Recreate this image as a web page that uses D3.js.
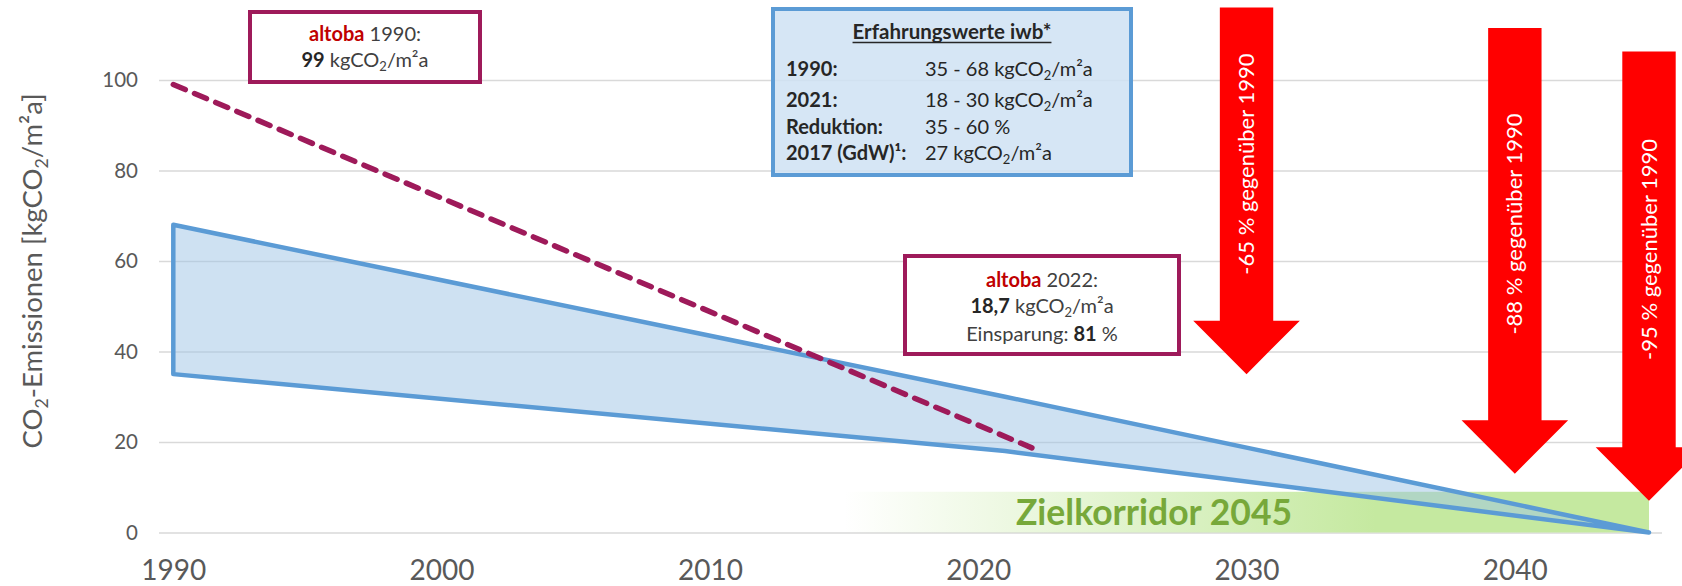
<!DOCTYPE html>
<html>
<head>
<meta charset="utf-8">
<script src="https://cdn.jsdelivr.net/npm/d3@7"></script>
<style>
  html, body { margin: 0; padding: 0; background: #fff; }
  svg { display: block; font-family: Lato, "Open Sans", sans-serif; }
</style>
</head>
<body>
<svg id="chart" width="1682" height="586"></svg>
<script>
// ---------- data ----------
const xTickYears   = [1990, 2000, 2010, 2020, 2030, 2040];
const yTickValues  = [0, 20, 40, 60, 80, 100];
const bandYears    = [1990, 2021, 2045];
const bandUpper    = [68, 30, 0];
const bandLower    = [35, 18, 0];
const altobaYears  = [1990, 2022];
const altobaValues = [99, 18.7];
const corridorYears = [2015, 2045];
const corridorTop   = 9;
const arrowYears      = [2030, 2040, 2045];
const arrowReductions = [65, 88, 95];
const arrowTipValues  = [35, 13, 7];
const arrowTopValues  = [116, 111.5, 106.3];
const iwbLabels = ["1990:", "2021:", "Reduktion:", "2017 (GdW)\u00b9:"];
const iwbValues = [
  [{t:"35 - 68 kgCO"},{t:"2",sub:true},{t:"/m\u00b2a"}],
  [{t:"18 - 30 kgCO"},{t:"2",sub:true},{t:"/m\u00b2a"}],
  [{t:"35 - 60 %"}],
  [{t:"27 kgCO"},{t:"2",sub:true},{t:"/m\u00b2a"}]
];

// ---------- layout ----------
const svg = d3.select("#chart");
const x = d3.scaleLinear().domain([1990, 2045]).range([173.3, 1649]);
const y = d3.scaleLinear().domain([0, 100]).range([532.5, 80]);
const gridLeft = 159, gridRight = 1662;
const TXT = "#595959", DARK = "#262626", MAG = "#9e1a5a", RED = "#c00000";
const BFS = 20; // box font size

function rich(sel, parts, fs) {
  let prevSub = false;
  parts.forEach(p => {
    const ts = sel.append("tspan").text(p.t);
    if (p.bold) ts.attr("font-weight", 700);
    if (p.color) ts.attr("fill", p.color);
    if (p.sub) { ts.attr("font-size", fs * 0.65).attr("dy", fs * 0.22); prevSub = true; }
    else if (prevSub) { ts.attr("dy", -fs * 0.22); prevSub = false; }
  });
  return sel;
}

// ---------- y axis with gridlines ----------
const yAxis = svg.append("g")
  .attr("transform", `translate(${gridLeft},0)`)
  .call(d3.axisLeft(y).tickValues(yTickValues).tickSize(-(gridRight - gridLeft)).tickPadding(21));
yAxis.select(".domain").remove();
yAxis.selectAll(".tick line").attr("stroke", "#d9d9d9").attr("stroke-width", 1.5);
yAxis.selectAll(".tick text").attr("fill", TXT).attr("font-size", 20.5).attr("font-family", "Lato");

// ---------- x axis ----------
const xAxis = svg.append("g")
  .attr("transform", `translate(0,${y(0)})`)
  .call(d3.axisBottom(x).tickValues(xTickYears).tickFormat(d3.format("d")).tickSize(0).tickPadding(28));
xAxis.select(".domain").remove();
xAxis.selectAll(".tick text").attr("fill", TXT).attr("font-size", 28).attr("font-family", "Lato");

// ---------- y title ----------
const yt = svg.append("text")
  .attr("transform", "translate(42,271) rotate(-90)")
  .attr("text-anchor", "middle").attr("fill", TXT).attr("font-size", 27.5);
rich(yt, [{t:"CO"},{t:"2",sub:true},{t:"-Emissionen [kgCO"},{t:"2",sub:true},{t:"/m\u00b2a]"}], 27.5);

// ---------- target corridor ----------
const defs = svg.append("defs");
const grad = defs.append("linearGradient").attr("id", "corr").attr("x1", "0").attr("x2", "1").attr("y1", "0").attr("y2", "0");
grad.append("stop").attr("offset", 0).attr("stop-color", "#c5e9a0").attr("stop-opacity", 0);
grad.append("stop").attr("offset", 0.66).attr("stop-color", "#c5e9a0").attr("stop-opacity", 1);
grad.append("stop").attr("offset", 1).attr("stop-color", "#c5e9a0").attr("stop-opacity", 1);
svg.append("rect")
  .attr("x", x(corridorYears[0])).attr("width", x(corridorYears[1]) - x(corridorYears[0]))
  .attr("y", y(corridorTop)).attr("height", y(0) - y(corridorTop))
  .attr("fill", "url(#corr)");
svg.append("text")
  .attr("x", 1154).attr("y", y(corridorTop / 2) + 12.5)
  .attr("text-anchor", "middle").attr("font-size", 35.5).attr("font-weight", 700)
  .attr("fill", "#77a83a").text("Zielkorridor 2045");

// ---------- iwb band ----------
const bandPts = bandYears.map((yr, i) => [x(yr), y(bandUpper[i])])
  .concat(bandYears.map((yr, i) => [x(yr), y(bandLower[i])]).reverse());
svg.append("path")
  .attr("d", d3.line()(bandPts) + "Z")
  .attr("fill", "#9dc3e6").attr("fill-opacity", 0.5)
  .attr("stroke", "#5b9bd5").attr("stroke-width", 4.5).attr("stroke-linejoin", "round");

// ---------- altoba dashed line ----------
svg.append("path")
  .attr("d", d3.line()(altobaYears.map((yr, i) => [x(yr), y(altobaValues[i])])))
  .attr("fill", "none").attr("stroke", MAG).attr("stroke-width", 5.5)
  .attr("stroke-dasharray", "13,10").attr("stroke-linecap", "round");

// ---------- boxes ----------
function box(x0, y0, w, h, stroke, fill, op) {
  svg.append("rect").attr("x", x0).attr("y", y0).attr("width", w).attr("height", h)
    .attr("fill", fill).attr("fill-opacity", op).attr("stroke", stroke).attr("stroke-width", 4);
}
// altoba 1990
box(250, 12, 230, 70, MAG, "#fff", 1);
rich(svg.append("text").attr("x", 365).attr("y", 41).attr("text-anchor", "middle").attr("font-size", BFS).attr("fill", "#404040"),
  [{t:"altoba", bold:true, color:RED},{t:" 1990:"}], BFS);
rich(svg.append("text").attr("x", 365).attr("y", 67).attr("text-anchor", "middle").attr("font-size", BFS).attr("fill", "#404040"),
  [{t:"99", bold:true, color:DARK},{t:" kgCO"},{t:"2",sub:true},{t:"/m\u00b2a"}], BFS);

// iwb experience box
box(773, 9, 358, 166, "#5b9bd5", "#cfe2f3", 0.85);
const ttl = svg.append("text").attr("x", 952).attr("y", 39).attr("text-anchor", "middle")
  .attr("font-size", 20.5).attr("font-weight", 700).attr("fill", DARK).text("Erfahrungswerte iwb*");
const tl = ttl.node().getComputedTextLength();
svg.append("line").attr("x1", 952 - tl / 2).attr("x2", 952 + tl / 2).attr("y1", 42.5).attr("y2", 42.5)
  .attr("stroke", DARK).attr("stroke-width", 1.6);
const rowY = [76, 107, 134, 160];
iwbLabels.forEach((lab, i) => {
  svg.append("text").attr("x", 786).attr("y", rowY[i]).attr("font-size", BFS).attr("font-weight", 700)
    .attr("fill", DARK).text(lab);
  rich(svg.append("text").attr("x", 925).attr("y", rowY[i]).attr("font-size", BFS).attr("fill", DARK), iwbValues[i], BFS);
});

// altoba 2022
box(905, 256, 274, 98, MAG, "#fff", 1);
rich(svg.append("text").attr("x", 1042).attr("y", 287).attr("text-anchor", "middle").attr("font-size", BFS).attr("fill", "#404040"),
  [{t:"altoba", bold:true, color:RED},{t:" 2022:"}], BFS);
rich(svg.append("text").attr("x", 1042).attr("y", 313).attr("text-anchor", "middle").attr("font-size", BFS).attr("fill", "#404040"),
  [{t:"18,7", bold:true, color:DARK},{t:" kgCO"},{t:"2",sub:true},{t:"/m\u00b2a"}], BFS);
rich(svg.append("text").attr("x", 1042).attr("y", 341).attr("text-anchor", "middle").attr("font-size", BFS).attr("fill", "#404040"),
  [{t:"Einsparung: "},{t:"81", bold:true, color:DARK},{t:" %"}], BFS);

// ---------- reduction arrows ----------
const shaftHalf = 26.7, headHalf = 53.3, headLen = 53.5;
arrowYears.forEach((yr, i) => {
  const cx = x(yr), top = y(arrowTopValues[i]), tip = y(arrowTipValues[i]), base = tip - headLen;
  const pts = [[cx - shaftHalf, top], [cx + shaftHalf, top], [cx + shaftHalf, base], [cx + headHalf, base],
               [cx, tip], [cx - headHalf, base], [cx - shaftHalf, base]];
  svg.append("path").attr("d", d3.line()(pts) + "Z").attr("fill", "#ff0000");
  const mid = (top + base) / 2;
  svg.append("text")
    .attr("transform", `translate(${cx + 7.5},${mid}) rotate(-90)`)
    .attr("text-anchor", "middle").attr("font-size", 22).attr("fill", "#fff")
    .text(`-${arrowReductions[i]} % gegen\u00fcber 1990`);
});
</script>
</body>
</html>
